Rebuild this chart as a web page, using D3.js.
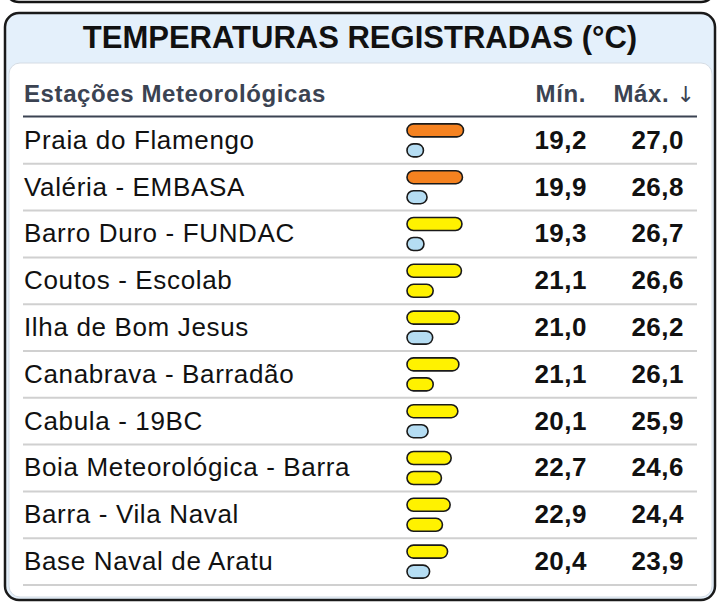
<!DOCTYPE html>
<html>
<head>
<meta charset="utf-8">
<script src="https://cdn.jsdelivr.net/npm/d3@7"></script>
<style>
  body { margin: 0; background: #fff; }
  svg { display: block; font-family: "Liberation Sans", Arial, sans-serif; }
</style>
</head>
<body>
<div id="chart"></div>
<script>
// Station names, in the order shown (sorted by max temperature)
var stations = [
    'Praia do Flamengo',
    'Valéria - EMBASA',
    'Barro Duro - FUNDAC',
    'Coutos - Escolab',
    'Ilha de Bom Jesus',
    'Canabrava - Barradão',
    'Cabula - 19BC',
    'Boia Meteorológica - Barra',
    'Barra - Vila Naval',
    'Base Naval de Aratu'
];
var minTemps = [19.2, 19.9, 19.3, 21.1, 21.0, 21.1, 20.1, 22.7, 22.9, 20.4];
var maxTemps = [27.0, 26.8, 26.7, 26.6, 26.2, 26.1, 25.9, 24.6, 24.4, 23.9];

var title = 'TEMPERATURAS REGISTRADAS (°C)';
var colHeaders = ['Estações Meteorológicas', 'Mín.', 'Máx.'];

var width = 720, height = 606;

var svg = d3.select('#chart').append('svg')
    .attr('width', width)
    .attr('height', height);

// bottom edge of the previous card, just peeking in at the top
svg.append('rect')
    .attr('x', 5).attr('y', -60)
    .attr('width', 710).attr('height', 62)
    .attr('rx', 14)
    .attr('fill', 'none')
    .attr('stroke', '#151515')
    .attr('stroke-width', 2.5);

// outer card with light blue header area
svg.append('rect')
    .attr('x', 5).attr('y', 13)
    .attr('width', 710).attr('height', 587)
    .attr('rx', 14)
    .attr('fill', '#e4f0fb')
    .attr('stroke', '#1a1a1a')
    .attr('stroke-width', 2.5);

// white inner panel
svg.append('rect')
    .attr('x', 9).attr('y', 63)
    .attr('width', 703).attr('height', 534)
    .attr('rx', 11)
    .attr('fill', '#ffffff')
    .attr('stroke', '#d5dce4')
    .attr('stroke-width', 1);

svg.append('text')
    .attr('x', width / 2).attr('y', 48)
    .attr('text-anchor', 'middle')
    .attr('font-size', 31)
    .attr('font-weight', 'bold')
    .attr('fill', '#111')
    .text(title);

// column headers
var headColor = '#3b4352';
svg.append('text')
    .attr('x', 24).attr('y', 102)
    .attr('font-size', 24)
    .attr('font-weight', 'bold')
    .attr('letter-spacing', 0.6)
    .attr('fill', headColor)
    .text(colHeaders[0]);

svg.append('text')
    .attr('x', 586).attr('y', 102)
    .attr('text-anchor', 'end')
    .attr('font-size', 24)
    .attr('font-weight', 'bold')
    .attr('letter-spacing', 0.6)
    .attr('fill', headColor)
    .text(colHeaders[1]);

var maxHead = svg.append('text')
    .attr('x', 695).attr('y', 102)
    .attr('text-anchor', 'end')
    .attr('font-size', 24)
    .attr('fill', headColor);
maxHead.append('tspan').attr('font-weight', 'bold').attr('letter-spacing', 0.6).text(colHeaders[2] + ' ');
maxHead.append('tspan')
    .attr('font-weight', 'normal')
    .attr('font-family', '"DejaVu Sans", sans-serif')
    .attr('font-size', 22)
    .attr('fill', headColor)
    .text('\u2193');

svg.append('line')
    .attr('x1', 23).attr('x2', 697)
    .attr('y1', 116.5).attr('y2', 116.5)
    .attr('stroke', headColor)
    .attr('stroke-width', 2);

// scales
var y = d3.scaleBand()
    .domain(stations)
    .range([117, 585]);

var x = d3.scaleLinear()
    .domain([16, 27])
    .range([407, 463.5]);

var color = d3.scaleThreshold()
    .domain([21.05, 26.75])
    .range(['#b5ddf3', '#fff200', '#f58220']);

var rows = svg.selectAll('g.row')
    .data(stations.map(function (name, i) {
        return { name: name, min: minTemps[i], max: maxTemps[i] };
    }))
    .enter().append('g')
    .attr('class', 'row')
    .attr('transform', function (d) { return 'translate(0,' + y(d.name) + ')'; });

var bw = y.bandwidth();
var barH = 13;

// row separator
rows.append('line')
    .attr('x1', 23).attr('x2', 697)
    .attr('y1', bw).attr('y2', bw)
    .attr('stroke', '#d0d0d0')
    .attr('stroke-width', 2);

rows.append('text')
    .attr('x', 24).attr('y', bw / 2 + 8.5)
    .attr('font-size', 26)
    .attr('letter-spacing', 0.65)
    .attr('fill', '#111')
    .text(function (d) { return d.name; });

var fmt = function (v) { return d3.format('.1f')(v).replace('.', ','); };

rows.append('text')
    .attr('x', 587).attr('y', bw / 2 + 8.5)
    .attr('text-anchor', 'end')
    .attr('font-size', 26)
    .attr('font-weight', 'bold')
    .attr('letter-spacing', 0.5)
    .attr('fill', '#111')
    .text(function (d) { return fmt(d.min); });

rows.append('text')
    .attr('x', 684).attr('y', bw / 2 + 8.5)
    .attr('text-anchor', 'end')
    .attr('font-size', 26)
    .attr('font-weight', 'bold')
    .attr('letter-spacing', 0.5)
    .attr('fill', '#111')
    .text(function (d) { return fmt(d.max); });

// max bar on top, min bar below
rows.append('rect')
    .attr('x', x(16))
    .attr('y', bw / 2 - 10 - barH / 2)
    .attr('width', function (d) { return x(d.max) - x(16); })
    .attr('height', barH)
    .attr('rx', barH / 2)
    .attr('fill', function (d) { return color(d.max); })
    .attr('stroke', '#1a1a1a')
    .attr('stroke-width', 1.6);

rows.append('rect')
    .attr('x', x(16))
    .attr('y', bw / 2 + 10 - barH / 2)
    .attr('width', function (d) { return x(d.min) - x(16); })
    .attr('height', barH)
    .attr('rx', barH / 2)
    .attr('fill', function (d) { return color(d.min); })
    .attr('stroke', '#1a1a1a')
    .attr('stroke-width', 1.6);
</script>
</body>
</html>
